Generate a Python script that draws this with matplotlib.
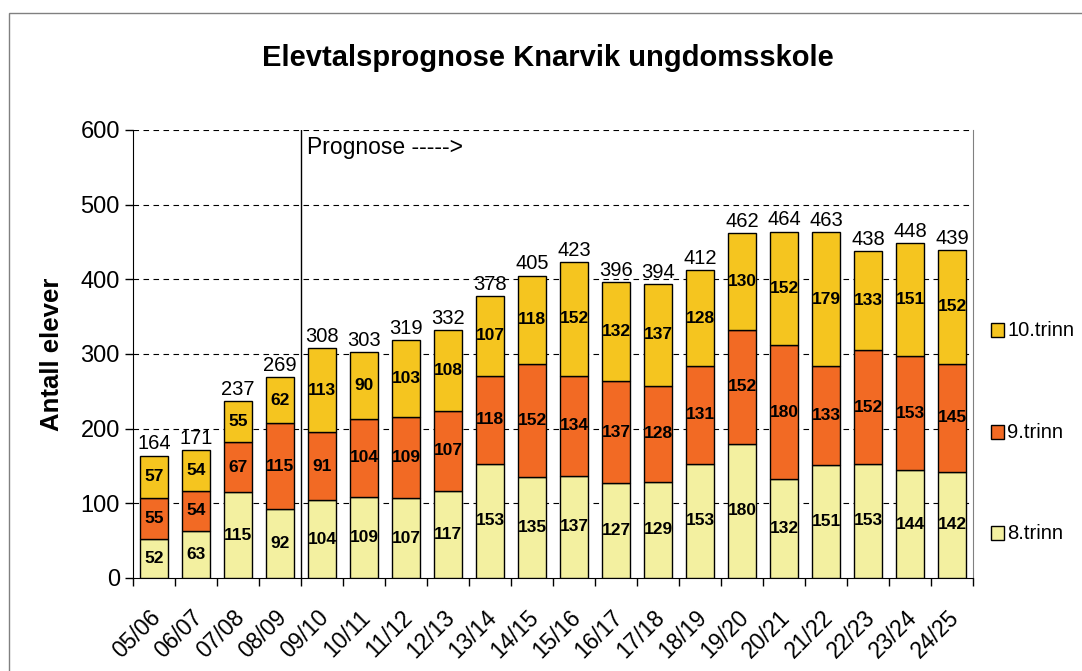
import numpy as np
import matplotlib.pyplot as plt
import matplotlib.transforms as mtransforms
from matplotlib.patches import Rectangle

plt.rcParams['font.family'] = ['Liberation Sans', 'DejaVu Sans']

years = ['05/06', '06/07', '07/08', '08/09', '09/10', '10/11', '11/12', '12/13', '13/14', '14/15',
         '15/16', '16/17', '17/18', '18/19', '19/20', '20/21', '21/22', '22/23', '23/24', '24/25']
trinn8 = [52, 63, 115, 92, 104, 109, 107, 117, 153, 135, 137, 127, 129, 153, 180, 132, 151, 153, 144, 142]
trinn9 = [55, 54, 67, 115, 91, 104, 109, 107, 118, 152, 134, 137, 128, 131, 152, 180, 133, 152, 153, 145]
trinn10 = [57, 54, 55, 62, 113, 90, 103, 108, 107, 118, 152, 132, 137, 128, 130, 152, 179, 133, 151, 152]

series = [('8.trinn', trinn8, '#f3f0a0'),
          ('9.trinn', trinn9, '#f26a24'),
          ('10.trinn', trinn10, '#f5c51f')]

fig = plt.figure(figsize=(10.82, 6.71), dpi=100)
ax = fig.add_axes([0.1229, 0.1386, 0.7764, 0.6677])

x = np.arange(len(years))
bottom = np.zeros(len(years))
for name, vals, col in series:
    vals = np.array(vals)
    ax.bar(x, vals, 0.67, bottom=bottom, color=col, edgecolor='black', linewidth=1, zorder=3)
    for xi, b, v in zip(x, bottom, vals):
        ax.text(xi, b + v / 2, str(v), ha='center', va='center', fontsize=12.5,
                fontweight='bold', zorder=4)
    bottom = bottom + vals

for xi, tot in zip(x, bottom):
    ax.text(xi, tot + 3, str(int(tot)), ha='center', va='bottom', fontsize=14.5)

ax.set_xlim(-0.5, len(years) - 0.5)
ax.set_ylim(0, 600)
ax.set_yticks(range(0, 601, 100))
ax.tick_params(axis='y', labelsize=17, length=6, width=1)
ax.set_xticks(x)
ax.set_xticklabels(years, rotation=45, ha='right', rotation_mode='anchor', fontsize=16.5)
ax.tick_params(axis='x', length=0, pad=20)
ax.set_xticks(np.arange(-0.5, len(years), 1), minor=True)
ax.tick_params(axis='x', which='minor', length=6, width=1)
shift = mtransforms.ScaledTranslation(-5 / 100, 0, fig.dpi_scale_trans)
for lab in ax.get_xticklabels():
    lab.set_transform(lab.get_transform() + shift)

for yv in range(100, 601, 100):
    ax.axhline(yv, color='black', linestyle=(0, (5, 4)), linewidth=0.8, zorder=1)

ax.spines['top'].set_visible(False)
ax.spines['right'].set_color('#808080')

ax.axvline(3.5, color='black', linewidth=1, zorder=2)
ax.text(3.65, 592, 'Prognose ----->', ha='left', va='top', fontsize=16.5)

ax.set_ylabel('Antall elever', fontsize=18.5, fontweight='bold', labelpad=12)
fig.text(0.5065, 0.913, 'Elevtalsprognose Knarvik ungdomsskole', ha='center', va='center',
         fontsize=21, fontweight='bold')

# legend drawn by hand, spread out like the original
leg_y = [0.205, 0.356, 0.508]
for (name, vals, col), yy in zip(series, leg_y):
    fig.add_artist(Rectangle((0.9155, yy - 0.0105), 0.012, 0.021, facecolor=col,
                             edgecolor='black', linewidth=1, transform=fig.transFigure))
    fig.text(0.931, yy, name, ha='left', va='center', fontsize=14.5)

fig.add_artist(Rectangle((0.0083, -0.1), 1.1, 1.0806, fill=False, edgecolor='#808080',
                         linewidth=1, transform=fig.transFigure))

fig.savefig('out.png', dpi=100)
